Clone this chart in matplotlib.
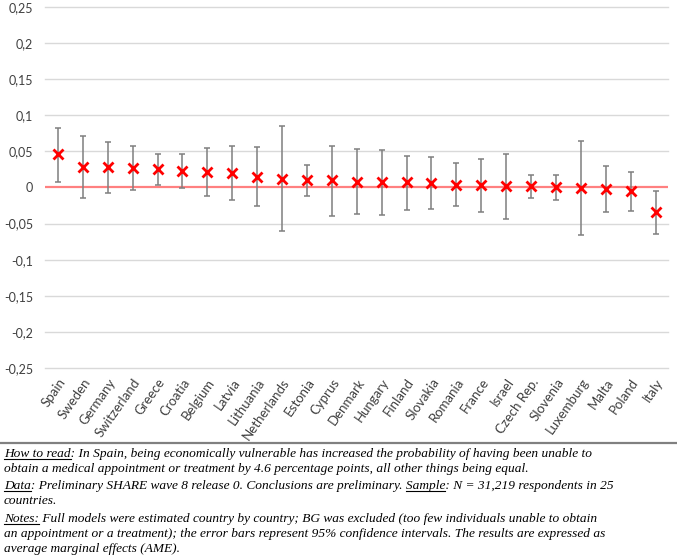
import matplotlib.pyplot as plt
import numpy as np

# Average marginal effects and 95% confidence bounds, by country
countries = ['Spain', 'Sweden', 'Germany', 'Switzerland', 'Greece', 'Croatia', 'Belgium',
             'Latvia', 'Lithuania', 'Netherlands', 'Estonia', 'Cyprus', 'Denmark', 'Hungary',
             'Finland', 'Slovakia', 'Romania', 'France', 'Israel', 'Czech Rep.', 'Slovenia',
             'Luxemburg', 'Malta', 'Poland', 'Italy']
ame = [0.046, 0.029, 0.028, 0.027, 0.025, 0.023, 0.021, 0.020, 0.015, 0.012, 0.010, 0.010,
       0.008, 0.007, 0.007, 0.006, 0.004, 0.003, 0.002, 0.002, 0.000, -0.001, -0.002,
       -0.005, -0.034]
upper = [0.083, 0.072, 0.063, 0.058, 0.046, 0.046, 0.055, 0.057, 0.056, 0.085, 0.031, 0.058,
         0.053, 0.052, 0.044, 0.042, 0.034, 0.040, 0.047, 0.017, 0.017, 0.064, 0.030,
         0.022, -0.005]
lower = [0.008, -0.015, -0.007, -0.004, 0.003, -0.001, -0.012, -0.018, -0.026, -0.060,
         -0.012, -0.040, -0.037, -0.038, -0.031, -0.030, -0.026, -0.034, -0.043, -0.014,
         -0.018, -0.066, -0.034, -0.033, -0.064]
yticks = [0.25, 0.2, 0.15, 0.1, 0.05, 0, -0.05, -0.1, -0.15, -0.2, -0.25]
ytick_labels = ['0,25', '0,2', '0,15', '0,1', '0,05', '0', '-0,05', '-0,1', '-0,15', '-0,2', '-0,25']

x = np.arange(len(countries))
ame = np.array(ame)
err = np.array([ame - np.array(lower), np.array(upper) - ame])

#%% Figure
fig = plt.figure(figsize=(6.77, 5.59), dpi=100)
ax = fig.add_axes([0.0672, 0.3417, 0.9195, 0.6458])

ax.set_ylim(-0.25, 0.25)
ax.set_xlim(-0.5, len(countries) - 0.5)
for t in yticks:
    if t != 0:
        ax.axhline(t, color='#D9D9D9', lw=1, zorder=0, clip_on=False)
ax.axhline(0, color='#FF8080', lw=1.6, zorder=1)

ax.errorbar(x, ame, yerr=err, fmt='none', ecolor='#7F7F7F', elinewidth=1.1,
            capsize=2.2, capthick=1.1, zorder=2)
ax.plot(x, ame, 'x', color='#FF0000', ms=7, mew=2, zorder=3)

ax.set_yticks(yticks)
ax.set_yticklabels(ytick_labels, fontsize=9, family='Lato', color='#404040')
ax.set_xticks(x)
ax.set_xticklabels(countries, rotation=55, ha='right', rotation_mode='anchor',
                   fontsize=9.5, family='Lato', color='#404040')
ax.tick_params(length=0)
ax.tick_params(axis='y', pad=9)
ax.tick_params(axis='x', pad=6)
for s in ax.spines.values():
    s.set_visible(False)

#%% Notes below the chart
fig.add_artist(plt.Line2D([0, 1], [1 - 442.5 / 559] * 2, color='#808080', lw=1.6))

W, H = 677, 559
renderer = fig.canvas.get_renderer()
note_font = dict(family='Liberation Serif', style='italic', fontsize=9.65, color='black')


def text_width(s):
    t = fig.text(0, 0, s, **note_font)
    w = t.get_window_extent(renderer).width
    t.remove()
    return w


lines = [
    (457, 'How to read: In Spain, being economically vulnerable has increased the probability of having been unable to', ['How to read']),
    (472, 'obtain a medical appointment or treatment by 4.6 percentage points, all other things being equal.', []),
    (489, 'Data: Preliminary SHARE wave 8 release 0. Conclusions are preliminary. Sample: N = 31,219 respondents in 25', ['Data', 'Sample']),
    (504, 'countries.', []),
    (522, 'Notes: Full models were estimated country by country; BG was excluded (too few individuals unable to obtain', ['Notes:']),
    (537, 'an appointment or a treatment); the error bars represent 95% confidence intervals. The results are expressed as', []),
    (552, 'average marginal effects (AME).', []),
]
x0 = 4
for ybase, txt, unders in lines:
    fig.text(x0 / W, 1 - ybase / H, txt, va='baseline', ha='left', **note_font)
    for u in unders:
        i = txt.index(u)
        end = text_width(txt[:i + len(u)])
        start = end - text_width(u)
        yline = 1 - (ybase + 2) / H
        fig.add_artist(plt.Line2D([(x0 + start) / W, (x0 + end) / W], [yline, yline],
                                  color='black', lw=0.8))

fig.savefig('out.png', dpi=100)
